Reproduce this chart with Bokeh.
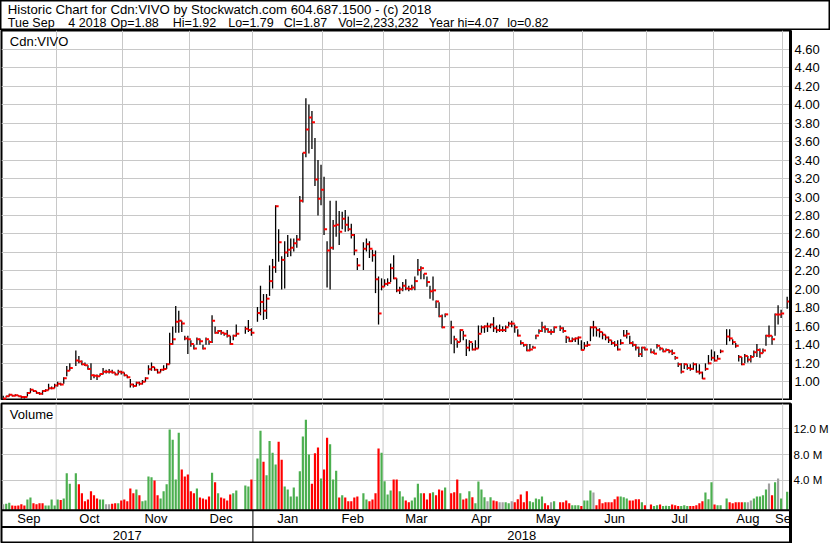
import numpy as np
import pandas as pd
from bokeh.plotting import figure
from bokeh.layouts import column
from bokeh.models import (ColumnDataSource, Range1d, FixedTicker, LinearAxis, Grid, Label,
                          LabelSet, Span, PrintfTickFormatter, CustomJSTickFormatter)
from bokeh.embed import file_html
from bokeh.resources import INLINE
from bokeh.core.properties import value

# ---------------- data ----------------
symbol = "Cdn:VIVO"
first_day = "2017-09-06"
last_day = "2018-09-04"
holidays = ["2017-10-09", "2017-12-25", "2017-12-26", "2018-01-01", "2018-02-19",
            "2018-03-30", "2018-05-21", "2018-07-02", "2018-08-06", "2018-09-03"]

close = [
    0.82, 0.845, 0.86, 0.85, 0.855, 0.845, 0.835, 0.835, 0.88, 0.915, 0.90, 0.88, 0.87, 0.90, 0.91, 0.93, 0.93, 0.96,
    0.98, 0.97, 1.04, 1.12, 1.15, 1.23, 1.22, 1.19, 1.18, 1.14, 1.07, 1.065, 1.06, 1.085, 1.11, 1.11, 1.11, 1.10, 1.08, 1.11, 1.10,
    1.07, 1.05, 0.97, 0.955, 0.99, 0.98, 1.00, 1.04, 1.135, 1.16, 1.13, 1.10, 1.13, 1.14, 1.19, 1.41, 1.46, 1.65, 1.66, 1.63, 1.47, 1.46,
    1.41, 1.36, 1.46, 1.44, 1.36, 1.46, 1.43, 1.66, 1.53, 1.55, 1.53, 1.52, 1.50, 1.41, 1.50, 1.52, 1.575, 1.56, 1.53,
    1.745, 1.865, 1.77, 1.90, 2.09, 2.24, 2.90, 2.51, 2.32, 2.40, 2.43, 2.45, 2.50, 2.54, 2.96, 3.48, 3.73, 3.86, 3.81, 3.19, 2.98, 3.08,
    2.65, 2.42, 2.45, 2.69, 2.70, 2.625, 2.765, 2.70, 2.65, 2.59, 2.42, 2.26, 2.44, 2.49, 2.44, 2.37, 2.11, 1.74, 2.03,
    2.06, 2.07, 2.23, 2.12, 1.99, 2.00, 2.04, 2.01, 2.005, 2.02, 2.09, 2.21, 2.23, 2.17, 2.08, 1.98, 1.99, 1.87, 1.71, 1.59, 1.73,
    1.59, 1.46, 1.43, 1.56, 1.50, 1.37, 1.43, 1.35, 1.36, 1.52, 1.59, 1.60, 1.60, 1.62, 1.58, 1.56, 1.56, 1.56, 1.59, 1.63, 1.63,
    1.59, 1.50, 1.42, 1.40, 1.34, 1.35, 1.37, 1.50, 1.55, 1.59, 1.57, 1.54, 1.54, 1.59, 1.58, 1.55, 1.48, 1.44, 1.46, 1.47, 1.48, 1.345,
    1.39, 1.40, 1.59, 1.59, 1.56, 1.54, 1.51, 1.48, 1.45, 1.42, 1.40, 1.35, 1.42, 1.50, 1.52, 1.42, 1.40, 1.37, 1.30, 1.37, 1.35,
    1.32, 1.305, 1.39, 1.36, 1.33, 1.345, 1.33, 1.31, 1.26, 1.19, 1.11, 1.19, 1.15, 1.14, 1.19, 1.11, 1.10, 1.035, 1.14, 1.20, 1.26,
    1.23, 1.25, 1.33, 1.49, 1.47, 1.43, 1.39, 1.27, 1.19, 1.28, 1.24, 1.27, 1.32, 1.345, 1.31, 1.34, 1.50, 1.50, 1.46, 1.73, 1.73, 1.74,
    1.87]

high = [
    0.85, 0.85, 0.87, 0.86, 0.865, 0.855, 0.85, 0.845, 0.89, 0.93, 0.915, 0.90, 0.89, 0.91, 0.92, 0.98, 0.95, 0.98,
    1.00, 0.99, 1.05, 1.17, 1.20, 1.34, 1.28, 1.23, 1.21, 1.18, 1.20, 1.08, 1.08, 1.09, 1.15, 1.13, 1.14, 1.13, 1.10, 1.13, 1.12,
    1.10, 1.07, 1.03, 0.98, 1.00, 1.00, 1.02, 1.05, 1.18, 1.21, 1.16, 1.14, 1.14, 1.18, 1.20, 1.53, 1.60, 1.82, 1.77, 1.66, 1.50, 1.50,
    1.45, 1.40, 1.48, 1.47, 1.40, 1.48, 1.45, 1.72, 1.60, 1.56, 1.56, 1.53, 1.56, 1.50, 1.51, 1.62, 1.60, 1.67, 1.58,
    1.81, 2.04, 1.95, 1.95, 2.26, 2.33, 2.91, 2.65, 2.36, 2.52, 2.59, 2.55, 2.55, 2.59, 3.01, 3.48, 4.07, 4.00, 3.93, 3.64, 3.40, 3.35,
    3.22, 2.52, 2.96, 2.75, 2.96, 2.85, 2.84, 2.86, 2.79, 2.71, 2.60, 2.34, 2.51, 2.55, 2.52, 2.43, 2.42, 2.14, 2.12,
    2.11, 2.12, 2.28, 2.37, 2.12, 2.03, 2.08, 2.11, 2.04, 2.05, 2.14, 2.33, 2.25, 2.17, 2.14, 2.04, 2.14, 1.88, 1.86, 1.73, 1.74,
    1.66, 1.50, 1.45, 1.57, 1.55, 1.46, 1.45, 1.42, 1.45, 1.61, 1.61, 1.61, 1.64, 1.63, 1.70, 1.61, 1.62, 1.60, 1.61, 1.65, 1.66,
    1.62, 1.57, 1.45, 1.41, 1.41, 1.41, 1.39, 1.51, 1.57, 1.65, 1.61, 1.58, 1.57, 1.60, 1.61, 1.59, 1.50, 1.48, 1.48, 1.48, 1.49, 1.45,
    1.43, 1.44, 1.60, 1.66, 1.59, 1.58, 1.54, 1.51, 1.49, 1.45, 1.44, 1.45, 1.46, 1.56, 1.56, 1.50, 1.44, 1.41, 1.38, 1.38, 1.38,
    1.36, 1.35, 1.41, 1.38, 1.36, 1.36, 1.35, 1.35, 1.28, 1.21, 1.20, 1.20, 1.19, 1.19, 1.21, 1.20, 1.19, 1.11, 1.20, 1.29, 1.35,
    1.33, 1.29, 1.35, 1.57, 1.57, 1.46, 1.42, 1.29, 1.27, 1.30, 1.28, 1.29, 1.34, 1.41, 1.36, 1.36, 1.51, 1.61, 1.50, 1.74, 1.83, 1.78,
    1.92]

low = [
    0.82, 0.83, 0.84, 0.84, 0.845, 0.84, 0.82, 0.82, 0.84, 0.88, 0.89, 0.87, 0.86, 0.86, 0.89, 0.91, 0.92, 0.93,
    0.95, 0.96, 0.98, 1.06, 1.12, 1.17, 1.20, 1.18, 1.17, 1.13, 1.02, 1.04, 1.02, 1.06, 1.08, 1.09, 1.09, 1.09, 1.07, 1.08, 1.08,
    1.06, 1.04, 0.94, 0.94, 0.95, 0.96, 0.97, 1.00, 1.08, 1.12, 1.12, 1.09, 1.10, 1.12, 1.14, 1.19, 1.40, 1.53, 1.53, 1.54, 1.45, 1.30,
    1.38, 1.35, 1.40, 1.40, 1.35, 1.40, 1.40, 1.42, 1.52, 1.52, 1.51, 1.50, 1.48, 1.40, 1.45, 1.49, 1.52, 1.54, 1.50,
    1.65, 1.72, 1.67, 1.68, 1.93, 2.01, 2.18, 2.30, 2.00, 2.01, 2.35, 2.36, 2.41, 2.45, 2.53, 2.94, 3.43, 3.47, 3.52, 3.12, 2.80, 2.91,
    2.59, 2.02, 2.00, 2.43, 2.57, 2.48, 2.65, 2.625, 2.63, 2.55, 2.37, 2.21, 2.21, 2.41, 2.34, 2.30, 1.96, 1.62, 1.99,
    2.03, 2.04, 2.08, 2.11, 1.97, 1.95, 1.98, 1.99, 1.98, 1.99, 1.99, 2.15, 2.11, 2.11, 2.03, 1.90, 1.88, 1.80, 1.70, 1.58, 1.70,
    1.41, 1.31, 1.37, 1.43, 1.45, 1.28, 1.33, 1.34, 1.34, 1.36, 1.53, 1.53, 1.54, 1.58, 1.54, 1.53, 1.54, 1.54, 1.54, 1.60, 1.59,
    1.53, 1.49, 1.40, 1.38, 1.33, 1.33, 1.36, 1.46, 1.52, 1.54, 1.53, 1.53, 1.51, 1.53, 1.55, 1.53, 1.42, 1.43, 1.43, 1.43, 1.40, 1.34,
    1.35, 1.38, 1.44, 1.49, 1.49, 1.48, 1.46, 1.45, 1.42, 1.40, 1.38, 1.34, 1.40, 1.49, 1.47, 1.41, 1.38, 1.34, 1.27, 1.27, 1.34,
    1.31, 1.30, 1.36, 1.34, 1.32, 1.33, 1.31, 1.29, 1.24, 1.16, 1.09, 1.14, 1.13, 1.12, 1.13, 1.10, 1.08, 1.03, 1.12, 1.19, 1.23,
    1.22, 1.24, 1.31, 1.40, 1.44, 1.40, 1.37, 1.22, 1.18, 1.20, 1.21, 1.21, 1.27, 1.27, 1.26, 1.31, 1.39, 1.48, 1.40, 1.50, 1.62, 1.69,
    1.79]

volume_m = [
    0.30, 0.40, 0.55, 0.12, 0.08, 0.12, 0.30, 0.12, 1.05, 1.35, 0.45, 0.30, 0.45, 0.45, 0.12, 0.12, 1.05, 0.12,
    1.05, 0.95, 1.20, 5.10, 3.50, 5.10, 3.40, 2.00, 0.75, 1.05, 2.30, 1.70, 1.20, 1.05, 1.05, 0.30, 0.30, 0.40, 0.45, 0.45, 0.90,
    1.05, 0.75, 2.75, 2.00, 2.60, 1.70, 0.75, 0.90, 4.60, 4.50, 4.00, 1.70, 1.20, 2.30, 3.40, 11.9, 10.3, 4.15, 11.4, 5.70, 4.60, 4.90,
    2.30, 2.00, 2.75, 1.35, 1.20, 1.05, 1.50, 5.20, 3.70, 2.00, 1.35, 1.20, 0.90, 1.80, 2.00, 2.45, 3.20, 3.05, 4.15,
    7.40, 11.7, 6.90, 4.80, 10.1, 8.30, 6.45, 10.0, 7.20, 3.05, 2.60, 1.50, 2.90, 1.50, 5.40, 10.8, 13.4, 8.00, 3.50, 8.20, 9.10, 4.30,
    5.70, 10.6, 9.60, 4.15, 5.50, 1.35, 1.70, 1.35, 0.75, 0.75, 1.35, 1.50, 2.00, 1.05, 0.75, 1.05, 2.00, 8.95, 8.30,
    3.85, 1.80, 2.45, 4.15, 4.15, 2.30, 1.50, 0.90, 0.60, 0.90, 1.35, 3.50, 2.00, 2.00, 1.05, 2.00, 2.15, 1.70, 2.60, 2.45, 2.90,
    2.00, 2.15, 4.15, 2.00, 1.05, 1.20, 2.30, 1.37, 0.44, 3.84, 2.60, 1.37, 0.75, 1.37, 0.90, 0.75, 0.60, 0.60, 0.60, 0.44, 0.75,
    0.60, 1.06, 1.83, 0.60, 2.30, 0.75, 0.60, 1.20, 1.06, 1.52, 0.44, 0.13, 0.60, 0.75, 0.60, 0.60, 0.90, 0.44, 0.13, 0.13, 0.13, 0.05,
    0.90, 0.90, 2.45, 2.14, 0.13, 1.06, 0.44, 0.60, 0.60, 0.60, 1.06, 1.52, 1.52, 1.37, 1.20, 0.90, 0.90, 1.06, 1.06, 0.60, 0.13,
    0.28, 0.05, 0.13, 0.28, 0.03, 0.07, 0.03, 0.28, 0.13, 0.02, 0.03, 0.13, 0.03, 0.02, 0.03, 0.13, 0.44, 0.75, 2.14, 1.06, 3.70,
    0.28, 0.13, 0.13, 1.20, 0.60, 0.44, 0.60, 0.60, 0.60, 0.60, 0.60, 0.90, 1.20, 1.52, 1.52, 1.68, 2.60, 3.53, 1.68, 3.70, 4.30, 1.20,
    2.233232]

# u = close up, d = close down, n = unchanged (colour of the volume bar)
change_by_month = [
    "n u u d d d d d u u d d d d u u u u",
    "u d u u u  u d d d d d d d u u n n d d u d",
    "d d d d u d u u u u d d u u u u u u u d d d",
    "d d u d d d d u d u d d d d u u  u u d",
    "u u d u u u u d d u u u u u u u u u d d d u",
    "d d u u u d u d d d d d  u u d d d d u",
    "u u u d d u u d d u u u u d d d u d d d u",
    "d d d u d d u d u u u u n u d d n n u u n",
    "d d d d d u u u u u d d n u  d d d d u u u d",
    "u u u n d d d d d d d d u u u d d d d u d",
    "d u u d u u u d d d u u u d d d d d u u u",
    "d u u  u d d d d d u n n u u u u u n d u n u",
    "u",
]
change = " ".join(change_by_month).split()

last_open = 1.88
price_ticks = [round(1.0 + 0.2 * k, 2) for k in range(19)]
volume_ticks = [4, 8, 12]

# ---------------- derived positions ----------------
days = pd.bdate_range(first_day, last_day)
day_keys = [d.strftime("%Y-%m-%d") for d in days]
slot = {k: i for i, k in enumerate(day_keys)}
trading = [k for k in day_keys if k not in holidays]
x = np.array([slot[k] for k in trading], dtype=float)
n = min(len(x), len(close), len(high), len(low), len(volume_m), len(change))
x = x[:n]

X0, X1 = -0.56, len(days) + 0.1


def groups(keys):
    out = []
    for i, k in enumerate(keys):
        if out and out[-1][0] == k:
            out[-1][2] = i
        else:
            out.append([k, i, i])
    return out


def centers(gs):
    res = []
    for j, g in enumerate(gs):
        lo = X0 if j == 0 else g[1] - 0.5
        hi = X1 if j == len(gs) - 1 else g[2] + 0.5
        res.append((lo + hi) / 2)
    return res


mg = groups([d.strftime("%b %Y") for d in days])
month_bounds = [g[1] - 0.5 for g in mg[1:]]
month_x = centers(mg)
month_text = [g[0].split()[0] for g in mg]
yg = groups([str(d.year) for d in days])
year_bounds = [g[1] - 0.5 for g in yg[1:]]
year_x = centers(yg)
year_text = [g[0] for g in yg]

FONT = "Liberation Sans"
FS = "13px"
GRID = "#c8c8c8"
COLORS = {"u": "#4caf50", "d": "#ff0000", "n": "#a0a0a0"}

src = ColumnDataSource(dict(
    x=x, xc=x + 0.5, close=close[:n], high=high[:n], low=low[:n],
    vol=volume_m[:n], color=[COLORS[c] for c in change[:n]]))

W = 830
# ---------------- header ----------------
last = pd.Timestamp(last_day)
line1 = f"Historic Chart for {symbol} by Stockwatch.com 604.687.1500 - (c) {last.year}"
fields = [last.strftime("%a %b"), f"{last.day} {last.year}", f"Op={last_open:.2f}",
          f"Hi={high[-1]:.2f}", f"Lo={low[-1]:.2f}", f"Cl={close[-1]:.2f}",
          f"Vol={int(round(volume_m[-1] * 1e6)):,}", f"Year hi={max(high):.2f}", f"lo={min(low):.2f}"]
field_x = [7.3, 67.8, 110.0, 172.3, 227.7, 283.3, 337.7, 428.3, 506.7]

h = figure(width=W, height=30, x_range=Range1d(0, W), y_range=Range1d(0, 30),
           x_axis_type=None, y_axis_type=None, toolbar_location=None, output_backend="svg",
           min_border=0, outline_line_color="black", outline_line_width=2, frame_align=False)
h.add_layout(Label(x=7.3, y=20.6, text=line1, text_font=FONT, text_font_size="13.2px",
                   text_baseline="middle", text_color="black"))
for fx, ft in zip(field_x, fields):
    h.add_layout(Label(x=fx, y=7.8, text=ft, text_font=FONT, text_font_size="12.5px",
                       text_baseline="middle", text_color="black"))

# ---------------- price panel ----------------
xr = Range1d(X0, X1)
p = figure(frame_width=788, frame_height=370, x_range=xr, y_range=Range1d(0.798, 4.802),
           x_axis_type=None, y_axis_type=None, toolbar_location=None, output_backend="svg",
           min_border_left=1, min_border_right=41, min_border_top=0, min_border_bottom=0,
           outline_line_color="black", outline_line_width=2,
           styles={"border-right": "1px solid black", "box-sizing": "border-box"})
p.add_layout(Grid(dimension=1, ticker=FixedTicker(ticks=price_ticks), grid_line_color=GRID))
p.add_layout(Grid(dimension=0, ticker=FixedTicker(ticks=month_bounds), grid_line_color=GRID))
pax = LinearAxis(ticker=FixedTicker(ticks=price_ticks), formatter=PrintfTickFormatter(format="%.2f"),
                 major_tick_in=0, major_tick_out=0, minor_tick_in=0, minor_tick_out=0,
                 axis_line_width=3, axis_line_color="black", major_label_standoff=4,
                 major_label_text_font=FONT, major_label_text_font_size="13px",
                 major_label_text_color="black")
p.add_layout(pax, "right")
p.segment(x0="x", y0="low", x1="x", y1="high", source=src, line_color="black", line_width=1.3)
p.rect(x="xc", y="close", width=1.0, height=2, height_units="screen", source=src,
       fill_color="#ff0000", line_color=None)
p.add_layout(Label(x=2.2, y=4.678, text=symbol, text_font=FONT, text_font_size=FS,
                   text_baseline="middle", text_color="black"))

# ---------------- volume panel + date rows ----------------
V0, V1 = -5.78, 15.92
BASE = -0.55
v = figure(frame_width=788, frame_height=140, x_range=xr, y_range=Range1d(V0, V1),
           x_axis_type=None, y_axis_type=None, toolbar_location=None, output_backend="svg",
           min_border_left=1, min_border_right=41, min_border_top=3, min_border_bottom=0,
           outline_line_color="black", outline_line_width=2,
           styles={"border-right": "1px solid black", "box-sizing": "border-box"})
v.add_layout(Grid(dimension=1, ticker=FixedTicker(ticks=volume_ticks), grid_line_color=GRID))
v.segment(x0=month_bounds, y0=BASE, x1=month_bounds, y1=V1, line_color=GRID, line_width=1)
v.vbar(x="x", top="vol", bottom=BASE, width=0.72, source=src, fill_color="color", line_color=None)
vax = LinearAxis(ticker=FixedTicker(ticks=volume_ticks),
                 formatter=CustomJSTickFormatter(code="return tick.toFixed(1) + ' M'"),
                 major_tick_in=0, major_tick_out=0, minor_tick_in=0, minor_tick_out=0,
                 axis_line_width=3, axis_line_color="black", major_label_standoff=3,
                 major_label_text_font=FONT, major_label_text_font_size="11.5px",
                 major_label_text_color="black")
v.add_layout(vax, "right")
v.add_layout(Span(location=-0.62, dimension="width", line_color="black", line_width=2))
v.add_layout(Span(location=-3.22, dimension="width", line_color="black", line_width=2))
v.segment(x0=year_bounds, y0=-0.62, x1=year_bounds, y1=V0, line_color="black", line_width=1)
v.add_layout(Label(x=2.2, y=14.2, text="Volume", text_font=FONT, text_font_size=FS,
                   text_baseline="middle", text_color="black"))
v.add_layout(LabelSet(x="x", y=-1.91, text="t", source=ColumnDataSource(dict(x=month_x, t=month_text)),
                      text_align="center", text_baseline="middle", text_font=value(FONT),
                      text_font_size=value(FS), text_color="black"))
v.add_layout(LabelSet(x="x", y=-4.47, text="t", source=ColumnDataSource(dict(x=year_x, t=year_text)),
                      text_align="center", text_baseline="middle", text_font=value(FONT),
                      text_font_size=value(FS), text_color="black"))

layout = column(h, p, v, spacing=0)
open("out.html", "w").write(file_html(layout, INLINE))
